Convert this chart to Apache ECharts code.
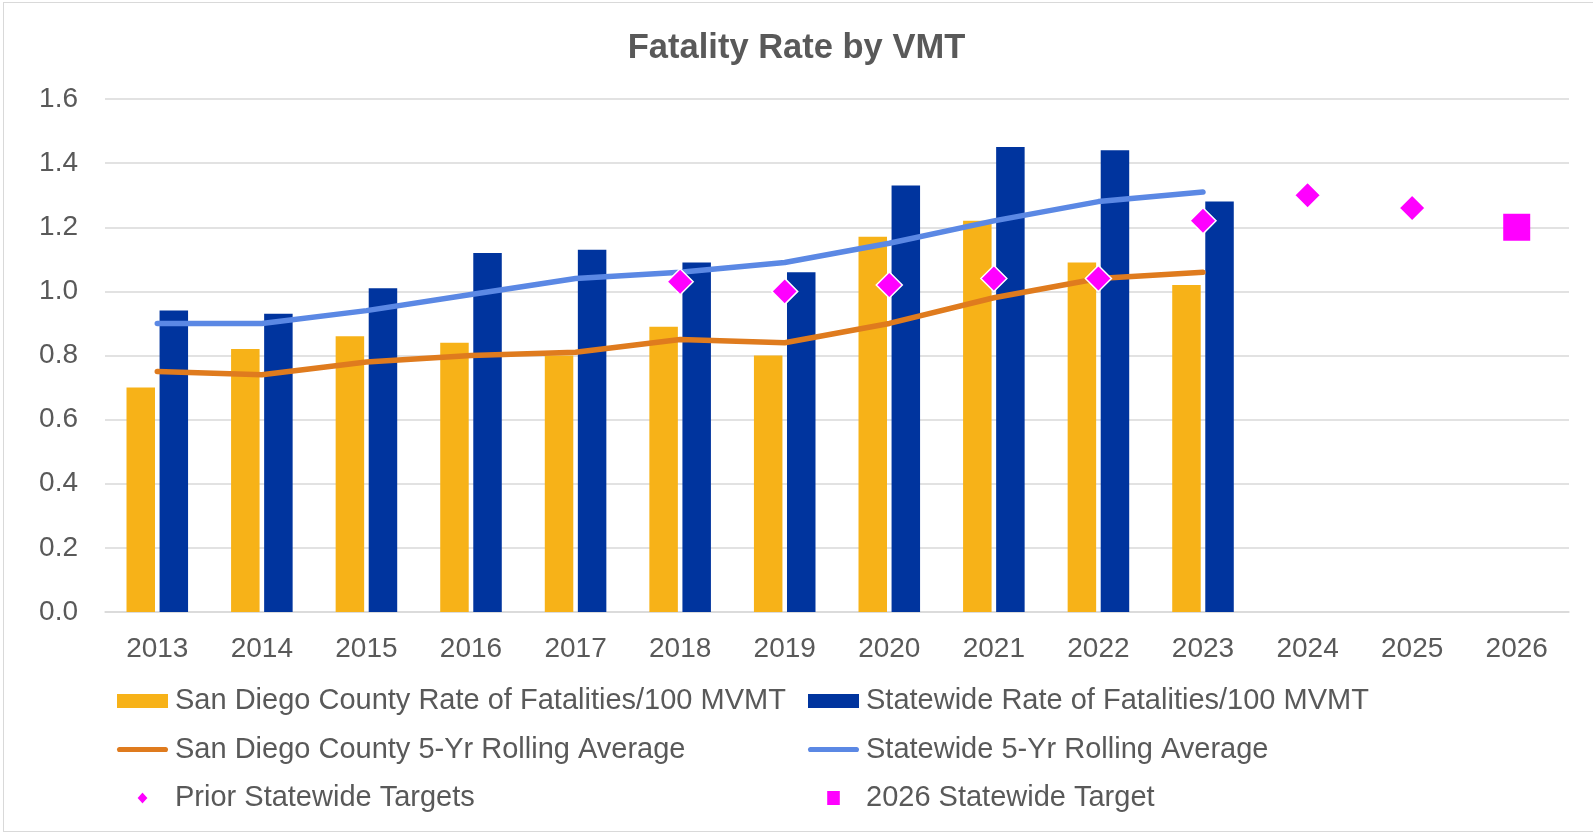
<!DOCTYPE html>
<html>
<head>
<meta charset="utf-8">
<title>Fatality Rate by VMT</title>
<script src="https://cdn.jsdelivr.net/npm/echarts@6/dist/echarts.min.js"></script>
<style>
  html, body { margin: 0; padding: 0; background: #fff; overflow: hidden; }
  #chart { width: 1593px; height: 832px; }
  .frame {
    position: absolute; left: 3px; top: 2px; width: 1600px; height: 828px;
    border: 1.5px solid #d9d9d9; pointer-events: none;
  }
</style>
</head>
<body>
<div id="chart"></div>
<div class="frame"></div>
<script>
// values
const years = ['2013', '2014', '2015', '2016', '2017', '2018', '2019', '2020', '2021', '2022', '2023', '2024', '2025', '2026'];
const sdRate = [0.70, 0.82, 0.86, 0.84, 0.80, 0.89, 0.80, 1.17, 1.22, 1.09, 1.02];
const stRate = [0.94, 0.93, 1.01, 1.12, 1.13, 1.09, 1.06, 1.33, 1.45, 1.44, 1.28];
const sdAvg = [0.75, 0.74, 0.78, 0.80, 0.81, 0.85, 0.84, 0.90, 0.98, 1.04, 1.06];
const stAvg = [0.90, 0.90, 0.94, 0.99, 1.04, 1.06, 1.09, 1.15, 1.22, 1.28, 1.31];
const priorTargets = ['-', '-', '-', '-', '-', 1.03, 1.00, 1.02, 1.04, 1.04, 1.22, 1.30, 1.26, '-'];
const target2026 = ['-', '-', '-', '-', '-', '-', '-', '-', '-', '-', '-', '-', '-', 1.20];
const yTicks = { min: 0, max: 1.6, interval: 0.2 };

const names = {
  sdRate: 'San Diego County Rate of Fatalities/100 MVMT',
  stRate: 'Statewide Rate of Fatalities/100 MVMT',
  sdAvg: 'San Diego County 5-Yr Rolling Average',
  stAvg: 'Statewide 5-Yr Rolling Average',
  prior: 'Prior Statewide Targets',
  target: '2026 Statewide Target'
};

const FONT = '"Liberation Sans", Arial, sans-serif';
const TEXT = '#595959';
const GRID = '#d9d9d9';

const ICON_LINE = 'path://M2.5 0 H47.5 A2.5 2.5 0 0 1 47.5 5 H2.5 A2.5 2.5 0 0 1 2.5 0 Z';
const ICON_DIAMOND = 'path://M0 -1 L0.9 0 L0 1 L-0.9 0 Z';
const ICON_SQUARE = 'path://M0 0 L0.9 0 L0.9 1 L0 1 Z';

const legendBase = {
  orient: 'vertical',
  top: 686,
  padding: 0,
  itemWidth: 51,
  itemHeight: 14,
  itemGap: 18.5,
  selectedMode: false,
  textStyle: { fontFamily: FONT, fontSize: 29, color: TEXT, lineHeight: 30, padding: [0, 0, 0, 2] }
};

const chart = echarts.init(document.getElementById('chart'));

chart.setOption({
  backgroundColor: '#fff',
  animation: false,
  title: {
    text: 'Fatality Rate by VMT',
    left: 'center',
    top: 26,
    textStyle: { fontFamily: FONT, fontSize: 34.5, fontWeight: 'bold', color: TEXT }
  },
  legend: [
    Object.assign({}, legendBase, {
      left: 117,
      data: [
        { name: names.sdRate, icon: 'rect' },
        { name: names.sdAvg, icon: ICON_LINE },
        { name: names.prior, icon: ICON_DIAMOND }
      ]
    }),
    Object.assign({}, legendBase, {
      left: 808,
      data: [
        { name: names.stRate, icon: 'rect' },
        { name: names.stAvg, icon: ICON_LINE },
        { name: names.target, icon: ICON_SQUARE }
      ]
    })
  ],
  grid: { left: 105, right: 24, top: 99, bottom: 220 },
  xAxis: {
    type: 'category',
    data: years,
    boundaryGap: true,
    axisLine: { lineStyle: { color: GRID, width: 1.5 } },
    axisTick: { show: false },
    axisLabel: { fontFamily: FONT, fontSize: 28, color: TEXT, margin: 23 }
  },
  yAxis: {
    type: 'value',
    min: yTicks.min,
    max: yTicks.max,
    interval: yTicks.interval,
    axisLine: { show: false },
    axisTick: { show: false },
    splitLine: { lineStyle: { color: GRID, width: 1.5 } },
    axisLabel: {
      fontFamily: FONT, fontSize: 28, color: TEXT, margin: 27,
      formatter: v => v.toFixed(1)
    }
  },
  series: [
    {
      name: names.sdRate,
      type: 'bar',
      data: sdRate,
      barWidth: 28.5,
      barGap: '16%',
      itemStyle: { color: '#F7B218' }
    },
    {
      name: names.stRate,
      type: 'bar',
      data: stRate,
      barWidth: 28.5,
      itemStyle: { color: '#00349E' }
    },
    {
      name: names.sdAvg,
      type: 'line',
      data: sdAvg,
      symbol: 'none',
      z: 3,
      lineStyle: { color: '#DF7B1E', width: 5.5, cap: 'round', join: 'round' },
      itemStyle: { color: '#DF7B1E' }
    },
    {
      name: names.stAvg,
      type: 'line',
      data: stAvg,
      symbol: 'none',
      z: 3,
      lineStyle: { color: '#5B88E4', width: 5.5, cap: 'round', join: 'round' },
      itemStyle: { color: '#5B88E4' }
    },
    {
      name: names.prior,
      type: 'scatter',
      data: priorTargets,
      symbol: 'diamond',
      symbolSize: 26,
      z: 5,
      itemStyle: { color: '#FF00FF', opacity: 1, borderColor: '#fff', borderWidth: 1.5 }
    },
    {
      name: names.target,
      type: 'scatter',
      data: target2026,
      symbol: 'rect',
      symbolSize: 27,
      z: 5,
      itemStyle: { color: '#FF00FF', opacity: 1 }
    }
  ]
});
</script>
</body>
</html>
